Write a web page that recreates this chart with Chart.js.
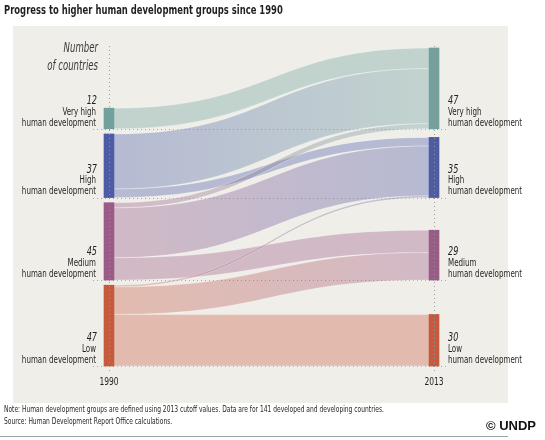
<!DOCTYPE html>
<html><head><meta charset="utf-8">
<script src="https://cdn.jsdelivr.net/npm/chart.js@4.4.0/dist/chart.umd.min.js"></script>
<style>html,body{margin:0;padding:0;background:#fff}canvas{display:block}</style>
</head><body>
<canvas id="c" width="545" height="440"></canvas>
<script>
const years = ['1990', '2013'];
const groupNames = ['Very high', 'High', 'Medium', 'Low'];
const counts1990 = [12, 37, 45, 47];
const counts2013 = [47, 35, 29, 30];
// countries moving from each 1990 group to [Very high, High, Medium, Low] in 2013
const fromVeryHigh = [12, 0, 0, 0];
const fromHigh = [32, 5, 0, 0];
const fromMedium = [3, 29, 13, 0];
const fromLow = [0, 1, 16, 30];
const transitions = [fromVeryHigh, fromHigh, fromMedium, fromLow];

const nodeColors = ['#71a09d', '#4e5ba6', '#9a5c86', '#c65a3c'];
const bandRGB = [[114,163,160],[80,94,170],[156,92,136],[205,98,70]];
const ROW_GAP = 3;
const FONT = '"Liberation Sans Narrow","DejaVu Sans Condensed","Liberation Sans",sans-serif';

// rows are bottom-aligned and stacked from Low upward
const rowBase = new Array(groupNames.length);
let acc = 0;
for (let i = groupNames.length - 1; i >= 0; i--) {
  rowBase[i] = acc;
  acc += Math.max(counts1990[i], counts2013[i]) + ROW_GAP;
}
const yMax = rowBase[0] + Math.max(counts1990[0], counts2013[0]);

const datasets = groupNames.map((g, i) => ({
  label: g,
  data: [[rowBase[i], rowBase[i] + counts1990[i]], [rowBase[i], rowBase[i] + counts2013[i]]],
  backgroundColor: nodeColors[i],
  borderWidth: 0,
  barThickness: 10,
  grouped: false,
  clip: false
}));

function rgba(c, a) { return `rgba(${c[0]},${c[1]},${c[2]},${a})`; }

// draws text compressed horizontally, like the condensed face of the original
function narrow(ctx, text, x, y, sx, align) {
  ctx.save();
  ctx.translate(x, y);
  ctx.scale(sx, 1);
  ctx.textAlign = align;
  ctx.fillText(text, 0, 0);
  ctx.restore();
}

const panelPlugin = {
  id: 'panel',
  beforeDraw(chart) {
    const ctx = chart.ctx;
    ctx.save();
    ctx.fillStyle = '#ffffff';
    ctx.fillRect(0, 0, chart.width, chart.height);
    ctx.fillStyle = '#efeee9';
    ctx.fillRect(13, 26, 495, 377);
    ctx.textBaseline = 'middle';
    // title
    ctx.fillStyle = '#231f20';
    ctx.font = 'bold 13px ' + FONT;
    narrow(ctx, 'Progress to higher human development groups since 1990', 4, 11, 0.72, 'left');
    // notes
    ctx.font = '8.5px ' + FONT;
    narrow(ctx, 'Note: Human development groups are defined using 2013 cutoff values. Data are for 141 developed and developing countries.', 4, 410, 0.78, 'left');
    narrow(ctx, 'Source: Human Development Report Office calculations.', 4, 422, 0.78, 'left');
    ctx.font = 'bold 13px "Liberation Sans","DejaVu Sans",sans-serif';
    ctx.fillStyle = '#111';
    ctx.textAlign = 'right';
    ctx.fillText('\u00A9 UNDP', 536, 426);
    ctx.strokeStyle = '#9aa4aa';
    ctx.lineWidth = 1;
    ctx.beginPath();
    ctx.moveTo(0, 436.5); ctx.lineTo(508, 436.5);
    ctx.stroke();
    ctx.restore();
  },
  beforeDatasetsDraw(chart) {
    const ctx = chart.ctx;
    const xs = chart.scales.x, ys = chart.scales.y;
    const x0 = xs.getPixelForValue(0) + 5, x1 = xs.getPixelForValue(1) - 5;
    const xm = (x0 + x1) / 2;
    // dotted horizontal lines at row bottoms
    ctx.save();
    ctx.strokeStyle = '#a8a8a4';
    ctx.lineWidth = 1;
    ctx.setLineDash([1, 3]);
    rowBase.forEach(b => {
      const y = Math.round(ys.getPixelForValue(b)) + 0.5;
      ctx.beginPath(); ctx.moveTo(93, y); ctx.lineTo(447, y); ctx.stroke();
    });
    ctx.restore();
    // flows
    const srcOff = groupNames.map((g, i) => rowBase[i] + counts1990[i]);
    const tgtOff = groupNames.map((g, i) => rowBase[i] + counts2013[i]);
    const paths = [];
    transitions.forEach((row, s) => {
      row.forEach((v, t) => {
        if (!v) return;
        const sTop = srcOff[s], sBot = sTop - v; srcOff[s] = sBot;
        const tTop = tgtOff[t], tBot = tTop - v; tgtOff[t] = tBot;
        paths.push({s, t, a: ys.getPixelForValue(sTop), b: ys.getPixelForValue(sBot),
                    c: ys.getPixelForValue(tTop), d: ys.getPixelForValue(tBot)});
      });
    });
    ctx.save();
    const k1 = x0 + (x1 - x0) * 0.5, k2 = x0 + (x1 - x0) * 0.5;
    paths.forEach(p => {
      const g = ctx.createLinearGradient(x0, 0, x1, 0);
      g.addColorStop(0, rgba(bandRGB[p.s], 0.36));
      g.addColorStop(1, rgba(bandRGB[p.t], 0.36));
      ctx.beginPath();
      ctx.moveTo(x0, p.a);
      ctx.bezierCurveTo(k1, p.a, k2, p.c, x1, p.c);
      ctx.lineTo(x1, p.d);
      ctx.bezierCurveTo(k2, p.d, k1, p.b, x0, p.b);
      ctx.closePath();
      ctx.fillStyle = g;
      ctx.fill();
      ctx.strokeStyle = 'rgba(255,255,255,0.35)';
      ctx.lineWidth = 0.8;
      ctx.stroke();
    });
    ctx.restore();
  },
  afterDatasetsDraw(chart) {
    const ctx = chart.ctx;
    const xs = chart.scales.x, ys = chart.scales.y;
    ctx.save();
    // vertical dotted lines through the year columns
    ctx.setLineDash([1, 3]);
    ctx.lineWidth = 1;
    years.forEach((yr, k) => {
      const x = Math.round(xs.getPixelForValue(k)) + 0.5;
      ctx.strokeStyle = 'rgba(150,150,150,0.9)';
      ctx.beginPath(); ctx.moveTo(x, 46); ctx.lineTo(x, 373); ctx.stroke();
    });
    ctx.setLineDash([]);
    ctx.fillStyle = '#231f20';
    ctx.textBaseline = 'middle';
    // year labels
    ctx.font = '10.5px ' + FONT;
    years.forEach((yr, k) => narrow(ctx, yr, xs.getPixelForValue(k), 382, 0.8, 'center'));
    // header
    ctx.font = 'italic 14px ' + FONT;
    ctx.fillStyle = '#3a3a3a';
    narrow(ctx, 'Number', 98, 48, 0.68, 'right');
    narrow(ctx, 'of countries', 98, 66, 0.68, 'right');
    // group labels
    groupNames.forEach((g, i) => {
      const yb = ys.getPixelForValue(rowBase[i]);
      ctx.fillStyle = '#231f20';
      // left (1990)
      ctx.font = 'italic 12px ' + FONT;
      narrow(ctx, String(counts1990[i]), 97, yb - 28, 0.75, 'right');
      ctx.font = '11px ' + FONT;
      narrow(ctx, g, 96, yb - 17, 0.72, 'right');
      narrow(ctx, 'human development', 96, yb - 6, 0.72, 'right');
      // right (2013)
      ctx.font = 'italic 12px ' + FONT;
      narrow(ctx, String(counts2013[i]), 448, yb - 28, 0.75, 'left');
      ctx.font = '11px ' + FONT;
      narrow(ctx, g, 448, yb - 17, 0.72, 'left');
      narrow(ctx, 'human development', 448, yb - 6, 0.72, 'left');
    });
    ctx.restore();
  }
};

new Chart(document.getElementById('c'), {
  type: 'bar',
  data: { labels: years, datasets },
  options: {
    responsive: false,
    devicePixelRatio: 1,
    animation: false,
    layout: { padding: { left: 109, right: 111, top: 48, bottom: 74 } },
    plugins: { legend: { display: false }, tooltip: { enabled: false }, title: { display: false } },
    scales: {
      x: { display: false, offset: false },
      y: { display: false, min: 0, max: yMax }
    }
  },
  plugins: [panelPlugin]
});
</script>
</body></html>
